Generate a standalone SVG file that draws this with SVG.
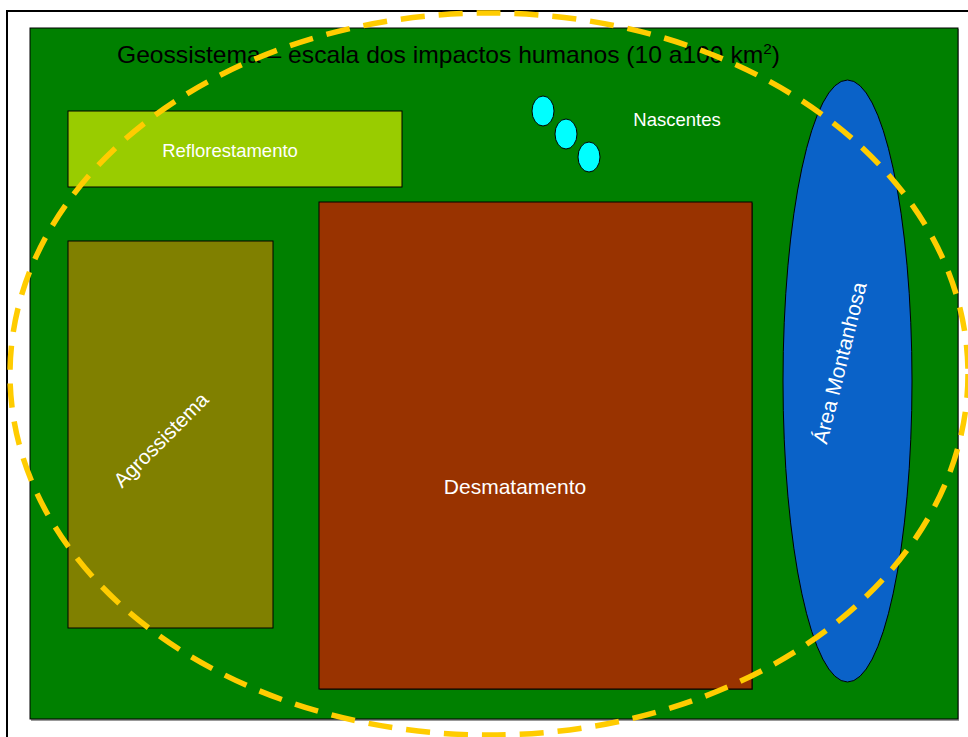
<svg xmlns="http://www.w3.org/2000/svg" width="968" height="737" viewBox="0 0 968 737">
<style>
.lbl{font-family:"Liberation Sans",Arial,sans-serif;fill:#fff;text-anchor:middle}
.box{stroke:#000;stroke-width:1}
</style>
<rect x="0" y="0" width="968" height="737" fill="#fff"/>
<rect x="7" y="11" width="980" height="760" fill="none" stroke="#000" stroke-width="2"/>
<g id="geossistema">
<rect x="31" y="29" width="928" height="692" fill="#999"/>
<rect x="30" y="28" width="928" height="691" fill="#008000" stroke="#000" stroke-width="1"/>
<text x="117" y="63" font-family="&quot;Liberation Sans&quot;,Arial,sans-serif" font-size="24" fill="#000" textLength="663" lengthAdjust="spacingAndGlyphs">Geossistema – escala dos impactos humanos (10 a100 km<tspan font-size="15" dy="-9">2</tspan><tspan dy="9">)</tspan></text>
</g>
<g id="reflorestamento">
<rect x="68" y="111" width="334" height="76" fill="#99CC00" class="box"/>
<text x="230" y="157" class="lbl" font-size="18.5">Reflorestamento</text>
</g>
<g id="agrossistema">
<rect x="68" y="241" width="205" height="387" fill="#808000" class="box"/>
<text x="161" y="447" class="lbl" font-size="20.5" transform="rotate(-45 161 440)">Agrossistema</text>
</g>
<g id="desmatamento">
<rect x="320" y="203" width="433" height="487" fill="#1a3300"/>
<rect x="319" y="202" width="433" height="487" fill="#993300" class="box"/>
<text x="515" y="494" class="lbl" font-size="21">Desmatamento</text>
</g>
<g id="nascentes">
<ellipse cx="543" cy="111" rx="11" ry="15" fill="#00FFFF" class="box"/>
<ellipse cx="566" cy="134" rx="11" ry="15" fill="#00FFFF" class="box"/>
<ellipse cx="589" cy="157" rx="11" ry="15" fill="#00FFFF" class="box"/>
<text x="677" y="126" class="lbl" font-size="18.5">Nascentes</text>
</g>
<g id="area-montanhosa">
<ellipse cx="847.5" cy="381" rx="64.5" ry="301" fill="#0A62C8" class="box"/>
<text x="840" y="370" class="lbl" font-size="21" transform="rotate(-76 840 363)">Área Montanhosa</text>
</g>
<g id="connectors">
<ellipse id="escala" cx="489" cy="374" rx="479" ry="361" fill="none" stroke="#FFCC00" stroke-width="5.5" stroke-dasharray="24 14"/>
</g>
</svg>
